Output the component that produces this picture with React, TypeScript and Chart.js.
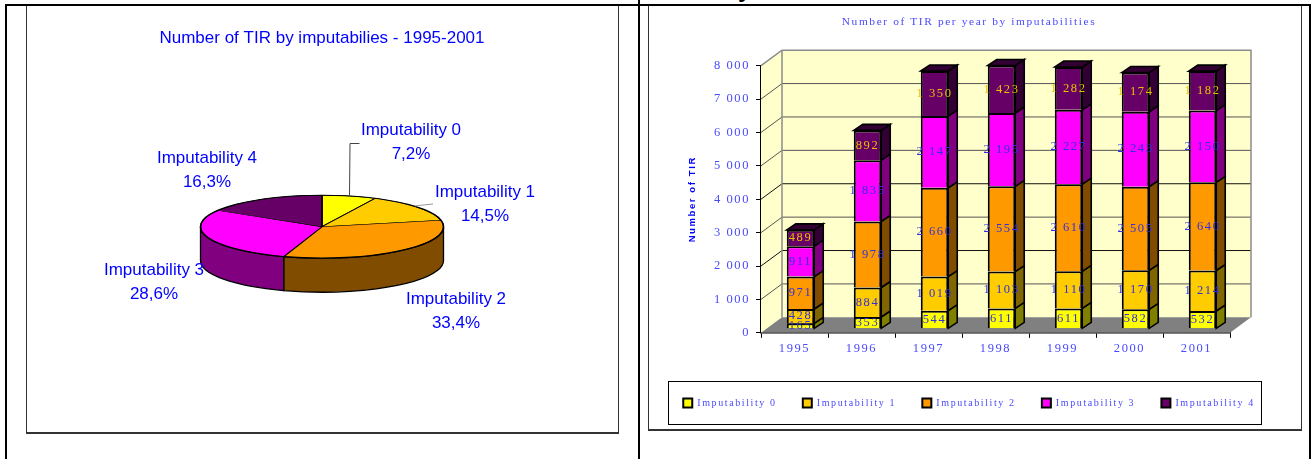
import React, { useEffect, useRef } from "react";
import { Chart, registerables } from "chart.js";

Chart.register(...registerables);

const BLUE = "#0000ff";
const SOFT_BLUE = "#4a4aff";
const SERIF = "'Liberation Serif', serif";
const SANS = "'Liberation Sans', Arial, sans-serif";

const seriesNames = ["Imputability 0", "Imputability 1", "Imputability 2", "Imputability 3", "Imputability 4"];
const seriesColors = ["#ffff00", "#ffcc00", "#ff9900", "#ff00ff", "#660066"];
const sideColors = ["#808000", "#806600", "#804c00", "#800080", "#330033"];
const sharePercent = [7.2, 14.5, 33.4, 28.6, 16.3];
const shareLabels = ["7,2%", "14,5%", "33,4%", "28,6%", "16,3%"];
const pieSideColors = ["#808000", "#806600", "#804c00", "#800080", "#330033"];

const years = ["1995", "1996", "1997", "1998", "1999", "2000", "2001"];
const imputability0 = [165, 353, 544, 611, 611, 582, 532];
const imputability1 = [428, 884, 1019, 1103, 1110, 1170, 1214];
const imputability2 = [971, 1978, 2660, 2554, 2610, 2505, 2640];
const imputability3 = [911, 1835, 2147, 2195, 2227, 2243, 2150];
const imputability4 = [489, 892, 1350, 1423, 1282, 1174, 1182];
const yearSeries = [imputability0, imputability1, imputability2, imputability3, imputability4];

const gridBlack = [2000, 4000];

const thousands = (v: number) => (v >= 1000 ? `${Math.floor(v / 1000)} ${String(v % 1000).padStart(3, "0")}` : String(v));

// label centres on the pie canvas, one per slice
const pieLabelPos = [
  [385, 124],
  [459, 186],
  [430, 293],
  [128, 264],
  [181, 152],
];

const PIE_K = 0.259;
const PIE_DEPTH = 34;

const pie3d = {
  id: "pie3d",
  beforeDatasetsDraw(chart: any) {
    const ctx = chart.ctx;
    const arcs = chart.getDatasetMeta(0).data;
    const { x: cx, y: cy } = arcs[0];
    const r = arcs[0].outerRadius;
    const ry = r * PIE_K;
    arcs.forEach((a: any, i: number) => {
      const s = Math.max(a.startAngle, 0);
      const e = Math.min(a.endAngle, Math.PI);
      if (e <= s) return;
      ctx.beginPath();
      ctx.ellipse(cx, cy, r, ry, 0, s, e);
      ctx.lineTo(cx + r * Math.cos(e), cy + ry * Math.sin(e) + PIE_DEPTH);
      ctx.ellipse(cx, cy + PIE_DEPTH, r, ry, 0, e, s, true);
      ctx.closePath();
      ctx.fillStyle = pieSideColors[i];
      ctx.fill();
      ctx.strokeStyle = "#000";
      ctx.lineWidth = 1.3;
      ctx.stroke();
    });
    ctx.save();
    ctx.translate(cx, cy);
    ctx.scale(1, PIE_K);
    ctx.translate(-cx, -cy);
  },
  afterDatasetsDraw(chart: any) {
    const ctx = chart.ctx;
    ctx.restore();
    const arcs = chart.getDatasetMeta(0).data;
    const { x: cx, y: cy } = arcs[0];
    const r = arcs[0].outerRadius;
    // top-surface rim, drawn again at an even weight
    ctx.strokeStyle = "#000";
    ctx.lineWidth = 1.2;
    ctx.beginPath();
    ctx.ellipse(cx, cy, r, r * PIE_K, 0, 0, Math.PI * 2);
    ctx.stroke();
    // leader lines
    const mid = (a: any) => (a.startAngle + a.endAngle) / 2;
    const a0 = arcs[0];
    const a1 = arcs[1];
    ctx.strokeStyle = "#444";
    ctx.lineWidth = 1;
    ctx.beginPath();
    const x0 = Math.round(cx + r * Math.cos(mid(a0))) + 0.5;
    ctx.moveTo(x0, cy - r * PIE_K);
    ctx.lineTo(x0 + 0.5, 137.5);
    ctx.lineTo(x0 + 10, 137.5);
    ctx.stroke();
    ctx.strokeStyle = "#999";
    ctx.beginPath();
    ctx.moveTo(cx + r * 0.97 * Math.cos(mid(a1)), cy + r * PIE_K * 0.97 * Math.sin(mid(a1)) - 2);
    ctx.lineTo(407, 198);
    ctx.stroke();
    // labels
    ctx.font = `17px ${SANS}`;
    ctx.fillStyle = BLUE;
    ctx.textAlign = "center";
    ctx.textBaseline = "middle";
    seriesNames.forEach((n, i) => {
      const [x, y] = pieLabelPos[i];
      ctx.fillText(n, x, y);
      ctx.fillText(shareLabels[i], x, y + 24);
    });
  },
};

const DEPTH_X = 21;
const DEPTH_Y = 15.5;
const BAR_DX = 6;
const BAR_DY = 4;
const BAR_SIDE_X = 9;
const BAR_SIDE_Y = 6;

const path = (ctx: any, pts: number[][]) => {
  ctx.beginPath();
  pts.forEach(([x, y], i) => (i ? ctx.lineTo(x, y) : ctx.moveTo(x, y)));
  ctx.closePath();
};

const face = (ctx: any, pts: number[][], fill: string) => {
  path(ctx, pts);
  ctx.fillStyle = fill;
  ctx.fill();
  ctx.strokeStyle = "#000";
  ctx.lineWidth = 1.6;
  ctx.stroke();
};

const bars3d = {
  id: "bars3d",
  beforeLayout(chart: any) {
    chart.ctx.letterSpacing = "1.6px";
  },
  beforeDraw(chart: any) {
    chart.ctx.letterSpacing = "1.6px";
    const ctx = chart.ctx;
    // legend frame
    ctx.strokeStyle = "#000";
    ctx.lineWidth = 1;
    ctx.strokeRect(19.5, 375.5, 593, 43);
  },
  beforeDatasetsDraw(chart: any) {
    const ctx = chart.ctx;
    const { left, right, top, bottom } = chart.chartArea;
    const y = chart.scales.y;
    // side wall
    path(ctx, [[left, top], [left + DEPTH_X, top - DEPTH_Y], [left + DEPTH_X, bottom - DEPTH_Y], [left, bottom]]);
    ctx.fillStyle = "#ffffcc";
    ctx.fill();
    // back wall
    path(ctx, [[left + DEPTH_X, top - DEPTH_Y], [right + DEPTH_X, top - DEPTH_Y], [right + DEPTH_X, bottom - DEPTH_Y], [left + DEPTH_X, bottom - DEPTH_Y]]);
    ctx.fill();
    // wall grid lines
    y.ticks.forEach((t: any) => {
      if (t.value === 0 || t.value === y.max) return;
      const p = y.getPixelForValue(t.value);
      ctx.strokeStyle = gridBlack.includes(t.value) ? "#111" : "#555";
      ctx.lineWidth = 1;
      ctx.beginPath();
      ctx.moveTo(left, p);
      ctx.lineTo(left + DEPTH_X, p - DEPTH_Y);
      ctx.lineTo(right + DEPTH_X, p - DEPTH_Y);
      ctx.stroke();
    });
    ctx.strokeStyle = "#8c8c8c";
    ctx.lineWidth = 1.5;
    ctx.beginPath();
    ctx.moveTo(left, top);
    ctx.lineTo(left + DEPTH_X, top - DEPTH_Y);
    ctx.lineTo(right + DEPTH_X, top - DEPTH_Y);
    ctx.lineTo(right + DEPTH_X, bottom - DEPTH_Y);
    ctx.moveTo(left + DEPTH_X, top - DEPTH_Y);
    ctx.lineTo(left + DEPTH_X, bottom - DEPTH_Y);
    ctx.stroke();
    // floor
    path(ctx, [[left, bottom], [left + DEPTH_X, bottom - DEPTH_Y], [right + DEPTH_X, bottom - DEPTH_Y], [right, bottom]]);
    ctx.fillStyle = "#808080";
    ctx.fill();
    ctx.save();
    ctx.translate(BAR_DX, -BAR_DY);
    // side and top faces of every stacked segment
    const n = chart.data.datasets.length;
    chart.data.datasets.forEach((_: any, d: number) => {
      chart.getDatasetMeta(d).data.forEach((b: any) => {
        const r = b.x + b.width / 2;
        const l = b.x - b.width / 2;
        face(ctx, [[r, b.y], [r + BAR_SIDE_X, b.y - BAR_SIDE_Y], [r + BAR_SIDE_X, b.base - BAR_SIDE_Y], [r, b.base]], sideColors[d]);
        if (d === n - 1) {
          face(ctx, [[l, b.y], [l + BAR_SIDE_X, b.y - BAR_SIDE_Y], [r + BAR_SIDE_X, b.y - BAR_SIDE_Y], [r, b.y]], sideColors[d]);
        }
      });
    });
  },
  afterDatasetsDraw(chart: any) {
    const ctx = chart.ctx;
    ctx.restore();
    ctx.font = `12.5px ${SERIF}`;
    ctx.textAlign = "center";
    ctx.textBaseline = "middle";
    const n = chart.data.datasets.length;
    chart.data.datasets.forEach((ds: any, d: number) => {
      chart.getDatasetMeta(d).data.forEach((b: any, i: number) => {
        ctx.fillStyle = d === n - 1 ? "#e8c000" : "#3030e0";
        ctx.fillText(thousands(ds.data[i]), b.x + BAR_DX, (b.y + b.base) / 2 - BAR_DY);
      });
    });
  },
};

function usePie(ref: React.RefObject<HTMLCanvasElement | null>) {
  useEffect(() => {
    const chart = new Chart(ref.current as HTMLCanvasElement, {
      type: "pie",
      data: {
        labels: seriesNames,
        datasets: [{ data: sharePercent, backgroundColor: seriesColors, borderColor: "#000", borderWidth: 1.6, radius: 121.5 } as any],
      },
      options: {
        responsive: false,
        animation: false,
        layout: { padding: { bottom: 28 } },
        plugins: {
          legend: { display: false },
          tooltip: { enabled: false },
          title: {
            display: true,
            text: "Number of TIR by imputabilies - 1995-2001",
            color: BLUE,
            font: { family: SANS, size: 17, weight: "normal" },
            padding: { top: 22, bottom: 0 },
          },
        },
      },
      plugins: [pie3d],
    } as any);
    return () => chart.destroy();
  }, []);
}

function useBars(ref: React.RefObject<HTMLCanvasElement | null>) {
  useEffect(() => {
    const chart = new Chart(ref.current as HTMLCanvasElement, {
      type: "bar",
      data: {
        labels: years,
        datasets: seriesNames.map((name, i) => ({
          label: name,
          data: yearSeries[i],
          backgroundColor: seriesColors[i],
          borderColor: "#000",
          borderWidth: 2,
          barPercentage: 0.41,
          categoryPercentage: 1,
        })),
      },
      options: {
        responsive: false,
        animation: false,
        layout: { padding: { bottom: 28, right: 12 } },
        scales: {
          x: {
            stacked: true,
            border: { color: "#000", width: 1.5 },
            grid: { drawOnChartArea: false, drawTicks: true, tickLength: 5, color: "#000" },
            ticks: { color: SOFT_BLUE, font: { family: SERIF, size: 12.5 }, maxRotation: 0, padding: 3 },
            afterFit: (s: any) => { s.height = 39; },
          },
          y: {
            stacked: true,
            min: 0,
            max: 8000,
            border: { color: "#000", width: 1.5 },
            grid: { drawOnChartArea: false, drawTicks: true, tickLength: 5, color: "#000" },
            ticks: { stepSize: 1000, color: SOFT_BLUE, font: { family: SERIF, size: 12.5 }, padding: 6, callback: (v: any) => thousands(Number(v)) },
            title: { display: true, text: "Number of TIR", color: BLUE, font: { family: SANS, size: 9.5, weight: "bold" }, padding: { top: 38, bottom: 0 } },
            afterFit: (s: any) => { s.width = 112; },
          },
          rightGutter: {
            position: "right",
            display: true,
            grid: { display: false },
            border: { display: false },
            ticks: { display: false },
            afterFit: (s: any) => { s.width = 59; },
          },
        },
        plugins: {
          tooltip: { enabled: false },
          title: {
            display: true,
            text: "Number of TIR per year by imputabilities",
            color: SOFT_BLUE,
            font: { family: SERIF, size: 11.4, weight: "normal" },
            padding: { top: 9, bottom: 37 },
          },
          legend: {
            position: "bottom",
            labels: {
              color: SOFT_BLUE,
              font: { family: SERIF, size: 10 },
              boxWidth: 9,
              boxHeight: 9,
              padding: 26.2,
            },
          },
        },
      },
      plugins: [bars3d],
    } as any);
    return () => chart.destroy();
  }, []);
}

const line = (l: number, t: number, w: number, h: number): React.CSSProperties => ({
  position: "absolute", left: l, top: t, width: w, height: h, background: "#000",
});

export default function App() {
  const pieRef = useRef<HTMLCanvasElement>(null);
  const barRef = useRef<HTMLCanvasElement>(null);
  usePie(pieRef);
  useBars(barRef);
  useEffect(() => {
    document.body.style.margin = "0";
    document.body.style.background = "#fff";
    document.body.style.overflow = "hidden";
  }, []);
  return (
    <div style={{ position: "relative", width: 1313, height: 459, overflow: "hidden", background: "#fff" }}>
      <div style={{ position: "absolute", left: 738, top: -26, font: `bold 24px ${SANS}`, lineHeight: "30px", color: "#000" }}>y</div>
      <div style={line(5, 4, 1305, 2)} />
      <div style={line(5, 4, 2, 455)} />
      <div style={line(638, 0, 2, 459)} />
      <div style={line(1309, 4, 2, 455)} />
      <div style={{ position: "absolute", left: 26, top: 6, width: 591, height: 426, borderLeft: "1px solid #333", borderRight: "1px solid #333", borderBottom: "2px solid #333" }} />
      <div style={{ position: "absolute", left: 648, top: 6, width: 652, height: 423, borderLeft: "1px solid #333", borderRight: "1px solid #333", borderBottom: "2px solid #333" }} />
      <canvas ref={pieRef} width={592} height={427} style={{ position: "absolute", left: 26, top: 6 }} />
      <canvas ref={barRef} width={652} height={440} style={{ position: "absolute", left: 649, top: 6 }} />
    </div>
  );
}
